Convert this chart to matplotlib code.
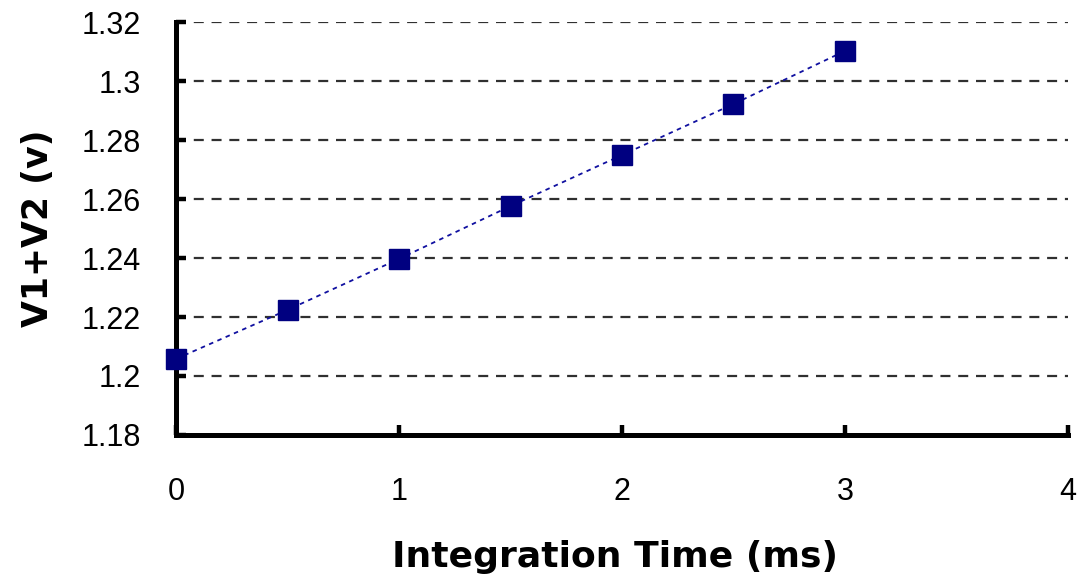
import matplotlib
matplotlib.use("Agg")
import matplotlib.pyplot as plt

# Measured sum voltage versus integration time
integration_time_ms = [0, 0.5, 1.0, 1.5, 2.0, 2.5, 3.0]
v_sum = [1.2058, 1.2224, 1.2397, 1.2576, 1.2749, 1.2922, 1.3102]

x_ticks = [0, 1, 2, 3, 4]
y_ticks = [1.18, 1.2, 1.22, 1.24, 1.26, 1.28, 1.3, 1.32]
y_tick_labels = ["1.18", "1.2", "1.22", "1.24", "1.26", "1.28", "1.3", "1.32"]

fig = plt.figure(figsize=(10.78, 5.81), dpi=100)
ax = fig.add_axes([0.1633, 0.2513, 0.8274, 0.7108])

ax.plot(integration_time_ms, v_sum, linestyle=(0, (2.5, 2.5)), color="#1010a0",
        linewidth=1.3, zorder=3, clip_on=False)
ax.plot(integration_time_ms, v_sum, linestyle="none", marker="s", markersize=14.5,
        markerfacecolor="#000080", markeredgecolor="#000080", zorder=4, clip_on=False)

ax.set_xlim(0, 4)
ax.set_ylim(1.18, 1.32)
ax.set_xticks(x_ticks)
ax.set_yticks(y_ticks)
ax.set_yticklabels(y_tick_labels)

for y in y_ticks[1:]:
    ax.axhline(y, color="#303030", linewidth=1.6, linestyle=(0, (4.5, 3.5)), zorder=1)

for side in ("top", "right"):
    ax.spines[side].set_visible(False)
for side in ("left", "bottom"):
    ax.spines[side].set_linewidth(3.6)
    ax.spines[side].set_color("black")

ax.tick_params(direction="in", length=7, width=3.2, color="black",
               labelsize=22, pad=25.5)
ax.tick_params(axis="x", pad=30)
for lbl in ax.get_xticklabels() + ax.get_yticklabels():
    lbl.set_fontfamily("Liberation Sans")

ax.set_xlabel("Integration Time (ms)", fontsize=26, fontweight="bold",
              family="DejaVu Sans")
ax.set_ylabel("V1+V2 (v)", fontsize=25, fontweight="bold",
              family="DejaVu Sans", labelpad=19)
ax.xaxis.set_label_coords(0.492, -0.255)

fig.savefig("out.png", dpi=100)
